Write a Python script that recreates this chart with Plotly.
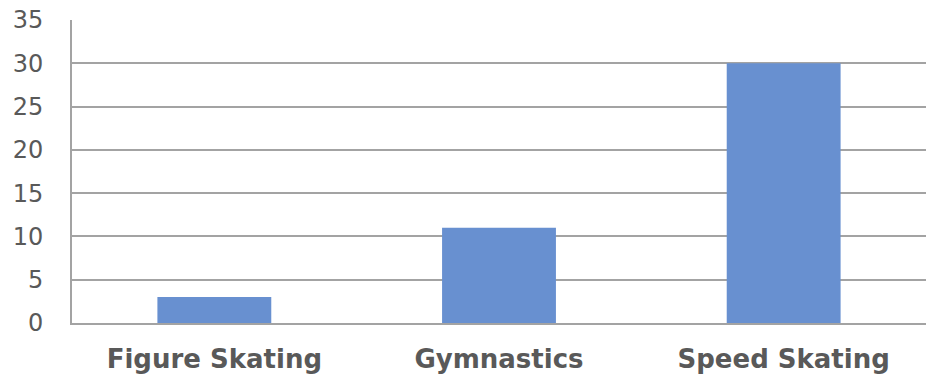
import plotly.graph_objects as go

# Chart data
categories = ["Figure Skating", "Gymnastics", "Speed Skating"]
values = [3, 11, 30]
y_ticks = [0, 5, 10, 15, 20, 25, 30, 35]

BAR_COLOR = "#6890d0"
LINE_COLOR = "#a3a3a3"
TEXT_COLOR = "#595959"
FONT = "Verdana, DejaVu Sans, sans-serif"

fig = go.Figure(
    go.Bar(
        x=categories,
        y=values,
        marker=dict(color=BAR_COLOR, line=dict(width=0)),
        width=0.4,
    )
)

fig.update_layout(
    width=927,
    height=375,
    margin=dict(l=72, r=1, t=20, b=49),
    paper_bgcolor="white",
    plot_bgcolor="white",
    showlegend=False,
    font=dict(family=FONT, color=TEXT_COLOR),
)

fig.update_xaxes(
    showline=True,
    linecolor=LINE_COLOR,
    linewidth=2,
    showgrid=False,
    ticks="",
    tickfont=dict(family=FONT, size=26, color=TEXT_COLOR, weight="bold"),
    ticklabelstandoff=12,
)

fig.update_yaxes(
    range=[0, 35],
    tickvals=y_ticks,
    ticktext=[str(v) for v in y_ticks],
    showline=True,
    linecolor=LINE_COLOR,
    linewidth=2,
    showgrid=True,
    gridcolor=LINE_COLOR,
    gridwidth=2,
    zeroline=False,
    ticks="",
    tickfont=dict(family=FONT, size=24, color=TEXT_COLOR),
    ticklabelstandoff=22,
)

fig.write_html("out.html")
